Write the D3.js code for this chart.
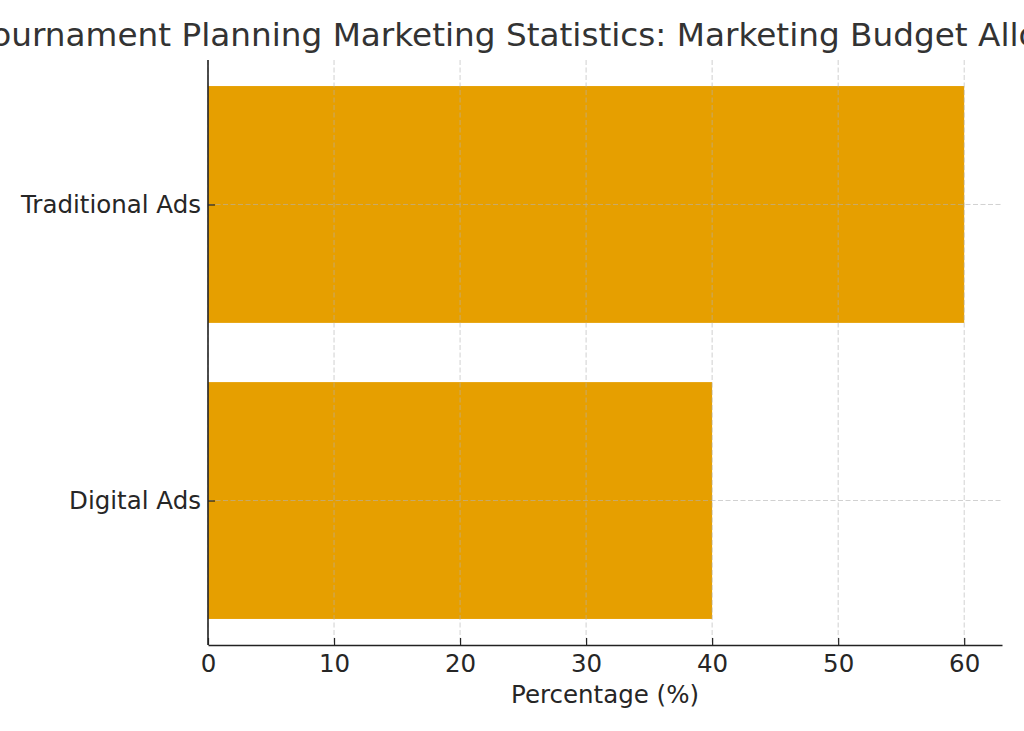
<!DOCTYPE html>
<html>
<head>
<meta charset="utf-8">
<script src="https://cdn.jsdelivr.net/npm/d3@7"></script>
<style>
  body { margin: 0; background: #fff; }
  svg { display: block; font-family: "DejaVu Sans", sans-serif; }
</style>
</head>
<body>
<div id="chart"></div>
<script>
const categories = ["Digital Ads", "Traditional Ads"];
const percentages = [40, 60];
const xTicks = [0, 10, 20, 30, 40, 50, 60];
const titleText = "Tournament Planning Marketing Statistics: Marketing Budget Allocation";
const xLabel = "Percentage (%)";

const W = 1024, H = 731;
const margin = {top: 60, right: 22, bottom: 86, left: 208};
const width = W - margin.left - margin.right,
    height = H - margin.top - margin.bottom;

const svg = d3.select("#chart")
    .append("svg")
    .attr("width", W)
    .attr("height", H);

const g = svg.append("g")
    .attr("transform", "translate(" + margin.left + "," + margin.top + ")");

// scales
const x = d3.scaleLinear()
    .domain([0, 63])
    .range([0, width]);

const y = d3.scalePoint()
    .domain(categories)
    .range([height, 0])
    .padding(0.488);

const barH = y.step() * 0.8;

// bars
g.selectAll("rect.bar")
    .data(categories)
    .enter()
    .append("rect")
    .attr("class", "bar")
    .attr("x", x(0))
    .attr("y", (d) => y(d) - barH / 2)
    .attr("width", (d, i) => x(percentages[i]) - x(0))
    .attr("height", barH)
    .attr("fill", "#E69F00");

// grid (drawn over the bars)
g.selectAll("line.vgrid")
    .data(xTicks)
    .enter()
    .append("line")
    .attr("class", "vgrid")
    .attr("x1", (d) => x(d))
    .attr("x2", (d) => x(d))
    .attr("y1", 0)
    .attr("y2", height)
    .attr("stroke", "#b0b0b0")
    .attr("stroke-opacity", 0.6)
    .attr("stroke-dasharray", "5,2.5");

g.selectAll("line.hgrid")
    .data(categories)
    .enter()
    .append("line")
    .attr("class", "hgrid")
    .attr("x1", 0)
    .attr("x2", width)
    .attr("y1", (d) => y(d))
    .attr("y2", (d) => y(d))
    .attr("stroke", "#b0b0b0")
    .attr("stroke-opacity", 0.6)
    .attr("stroke-dasharray", "5,2.5");

// x axis
const xAxis = g.append("g")
    .attr("transform", "translate(0," + height + ")")
    .call(d3.axisBottom(x).tickValues(xTicks).tickSizeInner(-7).tickSizeOuter(0).tickPadding(10));
xAxis.select(".domain").attr("stroke", "#222").attr("stroke-width", 1.6);
xAxis.selectAll(".tick line").attr("stroke", "#222").attr("stroke-width", 1.2);
xAxis.selectAll("text")
    .attr("fill", "#262626")
    .style("font-size", "24.5px")
    .style("font-family", "DejaVu Sans, sans-serif");

// y axis
const yAxis = g.append("g")
    .call(d3.axisLeft(y).tickSizeInner(-7).tickSizeOuter(0).tickPadding(7));
yAxis.select(".domain").attr("stroke", "#222").attr("stroke-width", 1.6)
    .attr("d", "M0," + height + "V0");
yAxis.selectAll(".tick line").attr("stroke", "#222").attr("stroke-width", 1.2);
yAxis.selectAll("text")
    .attr("fill", "#262626")
    .style("font-size", "24.5px")
    .style("font-family", "DejaVu Sans, sans-serif");

// x label
g.append("text")
    .attr("x", width / 2)
    .attr("y", height + 58)
    .attr("text-anchor", "middle")
    .attr("fill", "#262626")
    .style("font-size", "24.5px")
    .text(xLabel);

// title (wider than the figure, clipped at both sides like the original)
svg.append("text")
    .attr("x", 558)
    .attr("y", 46)
    .attr("text-anchor", "middle")
    .attr("fill", "#333")
    .style("font-size", "32.7px")
    .text(titleText);
</script>
</body>
</html>
